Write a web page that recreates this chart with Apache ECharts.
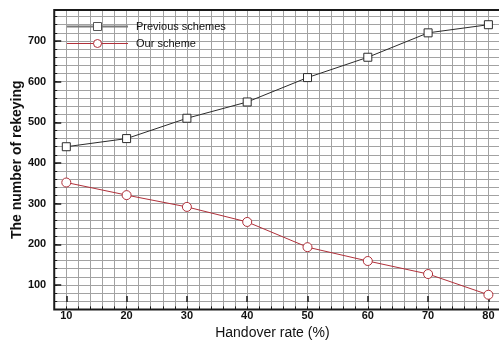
<!DOCTYPE html>
<html>
<head>
<meta charset="utf-8">
<script src="https://cdn.jsdelivr.net/npm/echarts@6/dist/echarts.min.js"></script>
<style>
  html, body { margin: 0; padding: 0; background: #fff; overflow: hidden; }
  /* canvas is wider than the window so the plot's right edge falls outside it */
  #chart { width: 520px; height: 345px; }
</style>
</head>
<body>
<div id="chart"></div>
<script>
const handoverRates = [10, 20, 30, 40, 50, 60, 70, 80]
const previousSchemes = [440, 460, 510, 550, 610, 660, 720, 740]
const ourScheme = [352, 321, 292, 255, 193, 159, 127, 76]
const xTickLabels = ['10', '20', '30', '40', '50', '60', '70', '80']
const yTickLabels = ['100', '200', '300', '400', '500', '600', '700']

const W = 520
const H = 345
// pixel mapping
const xPx10 = 66.3
const xScale = 6.03
const yPx100 = 285
const yScale = 0.4067

const xMin = 8, xMax = 84
const yMin = 40, yMax = 776

const mainGrid = {
    left: xPx10 - (10 - xMin) * xScale,
    right: W - (xPx10 + (xMax - 10) * xScale),
    top: yPx100 - (yMax - 100) * yScale,
    bottom: H - (yPx100 + (100 - yMin) * yScale),
}

const font = 'Liberation Sans, Arial, sans-serif'
const tickColor = '#1a1a1a'
const prevColor = '#2b2b2b'
const oursColor = '#b0303a'

const chart = echarts.init(document.getElementById('chart'), null, { renderer: 'canvas' })

chart.setOption({
    animation: false,
    backgroundColor: '#fff',
    textStyle: { fontFamily: font },
    legend: {
        orient: 'vertical',
        left: 66,
        top: 21,
        padding: 0,
        itemWidth: 61,
        itemHeight: 10,
        itemGap: 6,
        itemStyle: { borderWidth: 1 },
        data: [
            { name: 'Previous schemes', lineStyle: { color: '#7a7a7a', width: 2 }, itemStyle: { borderColor: '#555', borderWidth: 1 } },
            { name: 'Our scheme', lineStyle: { color: oursColor, width: 1 }, itemStyle: { borderWidth: 1 } },
        ],
        textStyle: { fontSize: 11, color: '#111', fontFamily: font, padding: [0, 0, 0, 3] },
    },
    grid: [
        { ...mainGrid, show: true, z: 10, backgroundColor: 'transparent', borderColor: '#1a1a1a', borderWidth: 2 },
        { left: xPx10, right: W - (xPx10 + 70 * xScale), top: mainGrid.top, bottom: mainGrid.bottom },
        { left: mainGrid.left, right: mainGrid.right, top: yPx100 - 600 * yScale, bottom: H - yPx100 },
    ],
    xAxis: [
        {
            type: 'value',
            gridIndex: 0,
            min: xMin,
            max: xMax,
            interval: 2,
            axisLine: { show: false },
            axisTick: { show: true, inside: true, length: 3, lineStyle: { color: tickColor } },
            axisLabel: { show: false },
            splitLine: { show: true, lineStyle: { color: '#a2a2a2', width: 1 } },
        },
        {
            type: 'category',
            gridIndex: 1,
            data: xTickLabels,
            boundaryGap: false,
            axisLine: { show: false },
            axisTick: { show: true, inside: true, length: 6, lineStyle: { color: tickColor, width: 1.5 } },
            axisLabel: { color: '#111', fontSize: 11, fontWeight: 'bold', margin: 8, fontFamily: font },
            splitLine: { show: false },
            name: 'Handover rate (%)',
            nameLocation: 'middle',
            nameGap: 22,
            nameTextStyle: { fontSize: 14, color: '#111', fontFamily: font, padding: [0, 10, 0, 0] },
        },
        { type: 'value', gridIndex: 2, show: false, min: 0, max: 1 },
    ],
    yAxis: [
        {
            type: 'value',
            gridIndex: 0,
            min: yMin,
            max: yMax,
            interval: 20,
            axisLine: { show: false },
            axisTick: { show: true, inside: true, length: 3, lineStyle: { color: tickColor } },
            axisLabel: { show: false },
            splitLine: { show: true, lineStyle: { color: '#a2a2a2', width: 1 } },
            name: 'The number of rekeying',
            nameLocation: 'middle',
            nameGap: 30,
            nameTextStyle: { fontSize: 14, fontWeight: 'bold', color: '#111', fontFamily: font },
        },
        { type: 'value', gridIndex: 1, show: false, min: 0, max: 1 },
        {
            type: 'category',
            gridIndex: 2,
            data: yTickLabels,
            boundaryGap: false,
            axisLine: { show: false },
            axisTick: { show: true, inside: true, length: 7, lineStyle: { color: tickColor, width: 1.5 } },
            axisLabel: { color: '#111', fontSize: 11, fontWeight: 'bold', margin: 8, fontFamily: font },
            splitLine: { show: false },
        },
    ],
    series: [
        {
            name: 'Previous schemes',
            type: 'line',
            xAxisIndex: 0,
            yAxisIndex: 0,
            data: handoverRates.map((x, i) => [x, previousSchemes[i]]),
            symbol: 'rect',
            symbolSize: 8,
            showAllSymbol: true,
            lineStyle: { color: prevColor, width: 1 },
            itemStyle: { color: '#fff', borderColor: prevColor, borderWidth: 1 },
            z: 3,
        },
        {
            name: 'Our scheme',
            type: 'line',
            xAxisIndex: 0,
            yAxisIndex: 0,
            data: handoverRates.map((x, i) => [x, ourScheme[i]]),
            symbol: 'circle',
            symbolSize: 9,
            showAllSymbol: true,
            lineStyle: { color: oursColor, width: 1 },
            itemStyle: { color: '#fff', borderColor: oursColor, borderWidth: 1 },
            z: 3,
        },
    ],
})
</script>
</body>
</html>
